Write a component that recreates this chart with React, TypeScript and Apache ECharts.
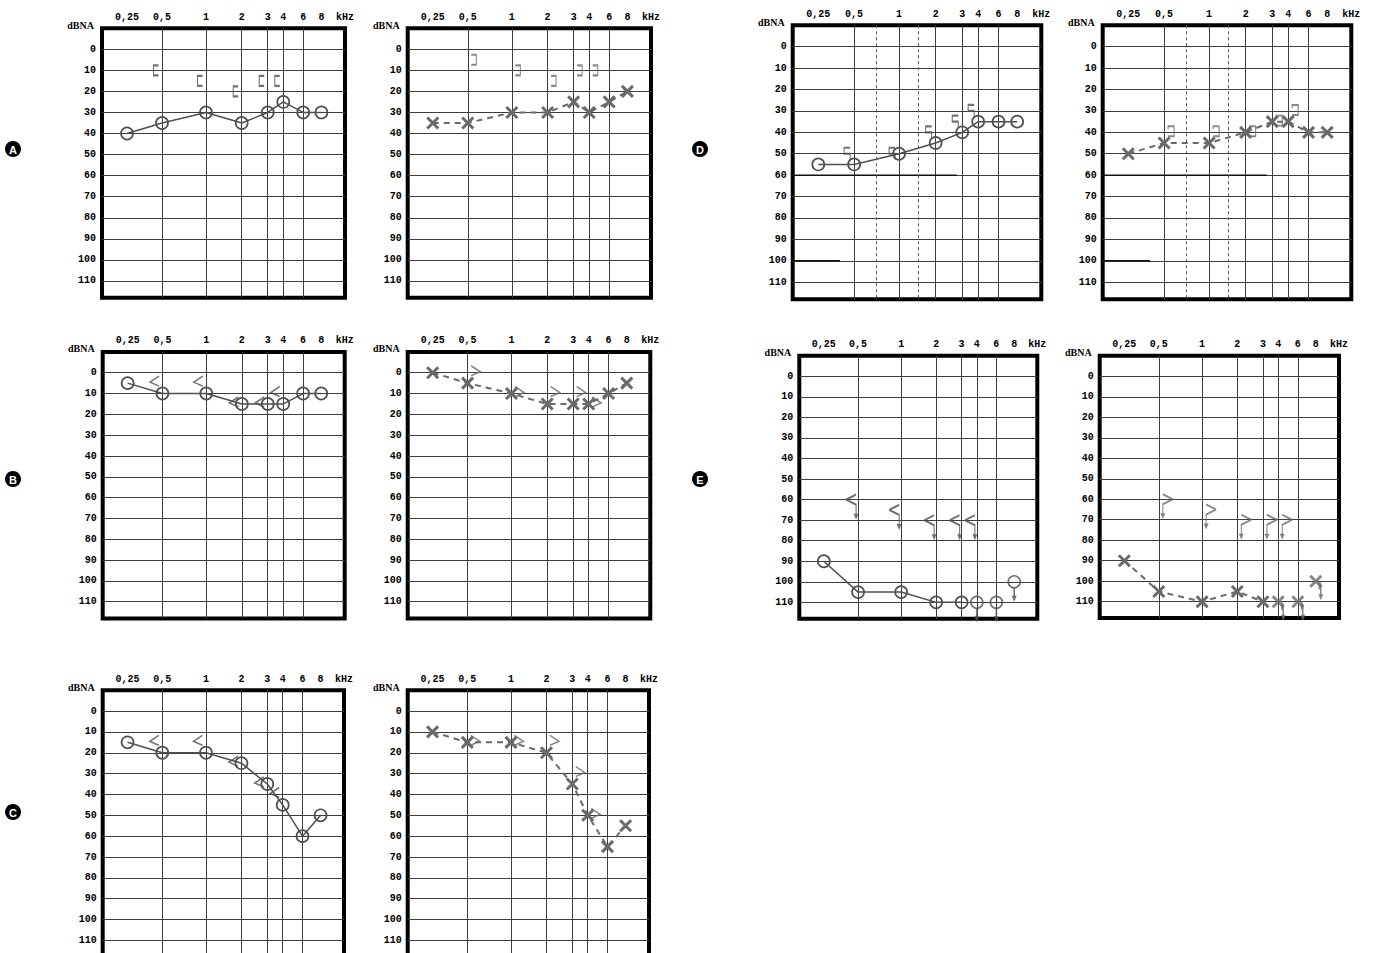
import React, { useEffect, useRef } from "react";
import * as echarts from "echarts";

// ---------- axis definitions ----------
const FREQ_LABELS = ["0,25", "0,5", "1", "2", "3", "4", "6", "8"];
// audiogram frequency scale: position of each frequency on a 0..100 axis
const FREQ_POS = [10.3, 24.7, 42.8, 57.5, 68.2, 74.6, 82.8, 90.3];
const KHZ_POS = 100;
const DASHED_FREQ_POS = [33.8, 50.5]; // 0,75 and 1,5 kHz (panel D)

// ---------- data (dB HL), index = frequency index ----------
// Panel A
const A_RIGHT_AC = [40, 35, 30, 35, 30, 25, 30, 30];
const A_RIGHT_BC = [null, 10, 15, 20, 15, 15, null, null];
const A_LEFT_AC = [35, 35, 30, 30, 25, 30, 25, 20];
const A_LEFT_BC = [null, 5, 10, 15, 10, 10, null, null];
// Panel B
const B_RIGHT_AC = [5, 10, 10, 15, 15, 15, 10, 10];
const B_RIGHT_BC = [null, 5, 5, 15, 15, 10, null, null];
const B_LEFT_AC = [0, 5, 10, 15, 15, 15, 10, 5];
const B_LEFT_BC = [null, 0, 10, 10, 10, 15, null, null];
// Panel C
const C_RIGHT_AC = [15, 20, 20, 25, 35, 45, 60, 50];
const C_RIGHT_BC = [null, 15, 15, 25, 35, 40, null, null];
const C_LEFT_AC = [10, 15, 15, 20, 35, 50, 65, 55];
const C_LEFT_BC = [null, 15, 15, 15, 30, 50, null, null];
// Panel D
const D_RIGHT_AC = [55, 55, 50, 45, 40, 35, 35, 35];
const D_RIGHT_BC = [null, 50, 50, 40, 35, 30, null, null];
const D_LEFT_AC = [50, 45, 45, 40, 35, 35, 40, 40];
const D_LEFT_BC = [null, 40, 40, 40, 35, 30, null, null];
const D_MASK_LEVELS = [60, 100];
const D_MASK_EXTENT = [66, 19];
// Panel E (no response marked)
const E_RIGHT_AC = [90, 105, 105, 110, 110, 110, 110, 100];
const E_RIGHT_AC_NR = [false, false, false, false, false, true, true, true];
const E_RIGHT_BC = [null, 60, 65, 70, 70, 70, null, null];
const E_LEFT_AC = [90, 105, 110, 105, 110, 110, 110, 100];
const E_LEFT_AC_NR = [false, false, false, false, false, true, true, true];
const E_LEFT_BC = [null, 60, 65, 70, 70, 70, null, null];

// ---------- styles ----------
const RIGHT_COLOR = "#4f4f4f";
const LEFT_COLOR = "#6a6a6a";
const GRID_COLOR = "#3d3d3d";
const FONT = "Liberation Mono";
const CLEAR = "rgba(0,0,0,0)";

const BC_STYLE: Record<string, any> = {
  maskedR: { symbol: "path://M5,0L0,0L0,10L5,10", size: [5, 10], offset: [-6, 0] },
  maskedL: { symbol: "path://M0,0L5,0L5,10L0,10", size: [5, 10], offset: [6, 0] },
  unmaskedR: { symbol: "path://M9,0L0,6L9,10", size: [9, 10], offset: [-8, -2] },
  unmaskedL: { symbol: "path://M0,0L9,6L0,10", size: [9, 10], offset: [8, -2] },
  maskedRD: { symbol: "path://M6,0L0,0L0,6L6,6L6,12", size: [6, 12], offset: [-7, 0] },
  maskedLD: { symbol: "path://M0,3L0,0L6,0L6,10L0,10", size: [6, 10], offset: [7, -1] },
  nrR: { symbol: "path://M10,0L0,5L10,10L10,20", size: [10, 20], offset: [-7, 5], head: [-2, 17] },
  nrL: { symbol: "path://M0,0L10,5L0,10L0,20", size: [10, 20], offset: [9, 5], head: [4, 17] },
};
const HEAD = "path://M0,0L6,0L3,7Z";

type Panel = {
  rect: [number, number, number, number];
  ear: "R" | "L";
  ac: number[];
  acNR?: boolean[];
  bc: (number | null)[];
  bcKind: string;
  dashed?: boolean;
  masks?: boolean;
};

const PANELS: Panel[] = [
  { rect: [102, 28.2, 243, 269.6], ear: "R", ac: A_RIGHT_AC, bc: A_RIGHT_BC, bcKind: "maskedR" },
  { rect: [407.7, 28.2, 243.3, 269.6], ear: "L", ac: A_LEFT_AC, bc: A_LEFT_BC, bcKind: "maskedL" },
  { rect: [792.7, 25.3, 248.6, 274], ear: "R", ac: D_RIGHT_AC, bc: D_RIGHT_BC, bcKind: "maskedRD", dashed: true, masks: true },
  { rect: [1102.7, 25.3, 248.6, 274], ear: "L", ac: D_LEFT_AC, bc: D_LEFT_BC, bcKind: "maskedLD", dashed: true, masks: true },
  { rect: [102.7, 351.9, 242, 266.5], ear: "R", ac: B_RIGHT_AC, bc: B_RIGHT_BC, bcKind: "unmaskedR" },
  { rect: [407.7, 351.9, 242.6, 266.5], ear: "L", ac: B_LEFT_AC, bc: B_LEFT_BC, bcKind: "unmaskedL" },
  { rect: [799.3, 355.8, 238, 263], ear: "R", ac: E_RIGHT_AC, acNR: E_RIGHT_AC_NR, bc: E_RIGHT_BC, bcKind: "nrR" },
  { rect: [1099.7, 355.8, 239.3, 262.3], ear: "L", ac: E_LEFT_AC, acNR: E_LEFT_AC_NR, bc: E_LEFT_BC, bcKind: "nrL" },
  { rect: [102.7, 690.2, 241.3, 266.9], ear: "R", ac: C_RIGHT_AC, bc: C_RIGHT_BC, bcKind: "unmaskedR" },
  { rect: [407.7, 690.2, 241.3, 266.9], ear: "L", ac: C_LEFT_AC, bc: C_LEFT_BC, bcKind: "unmaskedL" },
];

const BADGES = [
  { letter: "A", x: 13, y: 149 },
  { letter: "B", x: 13, y: 479 },
  { letter: "C", x: 13, y: 812 },
  { letter: "D", x: 700, y: 149 },
  { letter: "E", x: 700, y: 479 },
];

const X_SYMBOL = "path://M0,0L10,10M10,0L0,10";

function freqLabel(v: number) {
  if (Math.abs(v - KHZ_POS) < 0.01) return "kHz";
  const i = FREQ_POS.findIndex((p) => Math.abs(p - v) < 0.01);
  return i >= 0 ? FREQ_LABELS[i] : "";
}

function buildOption() {
  const grid: any[] = [];
  const xAxis: any[] = [];
  const yAxis: any[] = [];
  const series: any[] = [];
  const graphic: any[] = [];

  PANELS.forEach((p, i) => {
    const [left, top, width, height] = p.rect;
    grid.push({
      left,
      top,
      width,
      height,
      show: true,
      borderColor: "#000",
      borderWidth: 4,
      backgroundColor: CLEAR,
      containLabel: false,
      outerBoundsMode: "none",
    });
    xAxis.push({
      gridIndex: i,
      type: "value",
      position: "top",
      min: 0,
      max: 100,
      axisLine: { show: false },
      axisTick: { show: false, customValues: FREQ_POS },
      axisLabel: {
        customValues: [...FREQ_POS, KHZ_POS],
        formatter: (v: number) => freqLabel(v),
        margin: 6,
        fontFamily: FONT,
        fontWeight: "bold",
        fontSize: 10,
        color: "#000",
      },
      splitLine: { show: true, showMinLine: false, showMaxLine: false, lineStyle: { color: GRID_COLOR, width: 1 } },
    });
    yAxis.push({
      gridIndex: i,
      type: "value",
      inverse: true,
      min: -10,
      max: 118,
      interval: 10,
      axisLine: { show: false },
      axisTick: { show: false },
      axisLabel: {
        formatter: (v: number) => (v >= 0 && v <= 110 && v % 10 === 0 ? String(v) : ""),
        margin: 6,
        fontFamily: FONT,
        fontWeight: "bold",
        fontSize: 10,
        color: "#000",
      },
      splitLine: { show: true, showMinLine: false, showMaxLine: false, lineStyle: { color: GRID_COLOR, width: 1 } },
    });

    graphic.push({
      type: "text",
      x: left - 8,
      y: top - 3,
      style: { text: "dBNA", fill: "#000", font: "bold 10px 'Liberation Serif'", align: "right", verticalAlign: "middle" },
    });

    const isR = p.ear === "R";
    const color = isR ? RIGHT_COLOR : LEFT_COLOR;
    const pts = p.ac.map((v, k) => [FREQ_POS[k], v]);
    const nr = p.acNR || p.ac.map(() => false);
    const respPts = pts.filter((_, k) => !nr[k]);
    const nrPts = pts.filter((_, k) => nr[k]);
    const acSymbol = isR ? "circle" : X_SYMBOL;
    const acSize = isR ? 12 : 11;
    const acItem = { color: CLEAR, borderColor: color, borderWidth: isR ? 1.7 : 3 };

    const acSeries: any = {
      type: "line",
      xAxisIndex: i,
      yAxisIndex: i,
      data: respPts,
      symbol: acSymbol,
      symbolSize: acSize,
      itemStyle: acItem,
      lineStyle: { color, width: isR ? 1.5 : 2, type: isR ? "solid" : [6, 5] },
      z: 4,
      silent: true,
    };
    if (p.dashed) {
      acSeries.markLine = {
        silent: true,
        symbol: "none",
        label: { show: false },
        lineStyle: { type: [3, 3], color: "#555", width: 1 },
        data: DASHED_FREQ_POS.map((x) => ({ xAxis: x })),
      };
    }
    series.push(acSeries);

    if (p.masks) {
      D_MASK_LEVELS.forEach((lvl, m) => {
        series.push({
          type: "line",
          xAxisIndex: i,
          yAxisIndex: i,
          data: [
            [0, lvl],
            [D_MASK_EXTENT[m], lvl],
          ],
          symbol: "none",
          lineStyle: { color: "#111", width: 1.5 },
          z: 3,
          silent: true,
        });
      });
    }

    if (nrPts.length) {
      series.push({
        type: "scatter",
        xAxisIndex: i,
        yAxisIndex: i,
        data: nrPts,
        symbol: acSymbol,
        symbolSize: acSize,
        itemStyle: acItem,
        z: 4,
        silent: true,
      });
      // arrow shaft
      series.push({
        type: "scatter",
        xAxisIndex: i,
        yAxisIndex: i,
        data: nrPts,
        symbol: isR ? "rect" : "path://M0,0L2,3L2,11",
        symbolSize: isR ? [1.5, 9] : [2, 11],
        symbolOffset: isR ? [0, 10.5] : [4, 8.5],
        itemStyle: isR ? { color } : { color: CLEAR, borderColor: color, borderWidth: 1.5 },
        z: 4,
        silent: true,
      });
      // arrow head
      series.push({
        type: "scatter",
        xAxisIndex: i,
        yAxisIndex: i,
        data: nrPts,
        symbol: HEAD,
        symbolSize: [5, 6],
        symbolOffset: isR ? [0, 17] : [5, 16],
        itemStyle: { color },
        z: 4,
        silent: true,
      });
    }

    const bs = BC_STYLE[p.bcKind];
    const bcPts = p.bc
      .map((v, k) => (v == null ? null : [FREQ_POS[k], v]))
      .filter((d) => d != null);
    series.push({
      type: "scatter",
      xAxisIndex: i,
      yAxisIndex: i,
      data: bcPts,
      symbol: bs.symbol,
      symbolSize: bs.size,
      symbolOffset: bs.offset,
      itemStyle: { color: CLEAR, borderColor: color, borderWidth: 1.5 },
      z: 5,
      silent: true,
    });
    if (bs.head) {
      series.push({
        type: "scatter",
        xAxisIndex: i,
        yAxisIndex: i,
        data: bcPts,
        symbol: HEAD,
        symbolSize: [5, 6],
        symbolOffset: bs.head,
        itemStyle: { color },
        z: 5,
        silent: true,
      });
    }
  });

  BADGES.forEach((b) => {
    graphic.push({ type: "circle", shape: { cx: b.x, cy: b.y, r: 8 }, style: { fill: "#000" } });
    graphic.push({
      type: "text",
      x: b.x,
      y: b.y + 0.5,
      style: { text: b.letter, fill: "#fff", font: "bold 11px 'Liberation Sans'", align: "center", verticalAlign: "middle" },
    });
  });

  return {
    animation: false,
    backgroundColor: "#fff",
    grid,
    xAxis,
    yAxis,
    series,
    graphic,
  };
}

export default function App() {
  const ref = useRef<HTMLDivElement>(null);
  useEffect(() => {
    if (!ref.current) return;
    const chart = echarts.init(ref.current, undefined, { renderer: "svg" });
    chart.setOption(buildOption() as any);
    return () => chart.dispose();
  }, []);
  return <div ref={ref} style={{ position: "fixed", left: 0, top: 0, width: 1375, height: 953 }} />;
}
